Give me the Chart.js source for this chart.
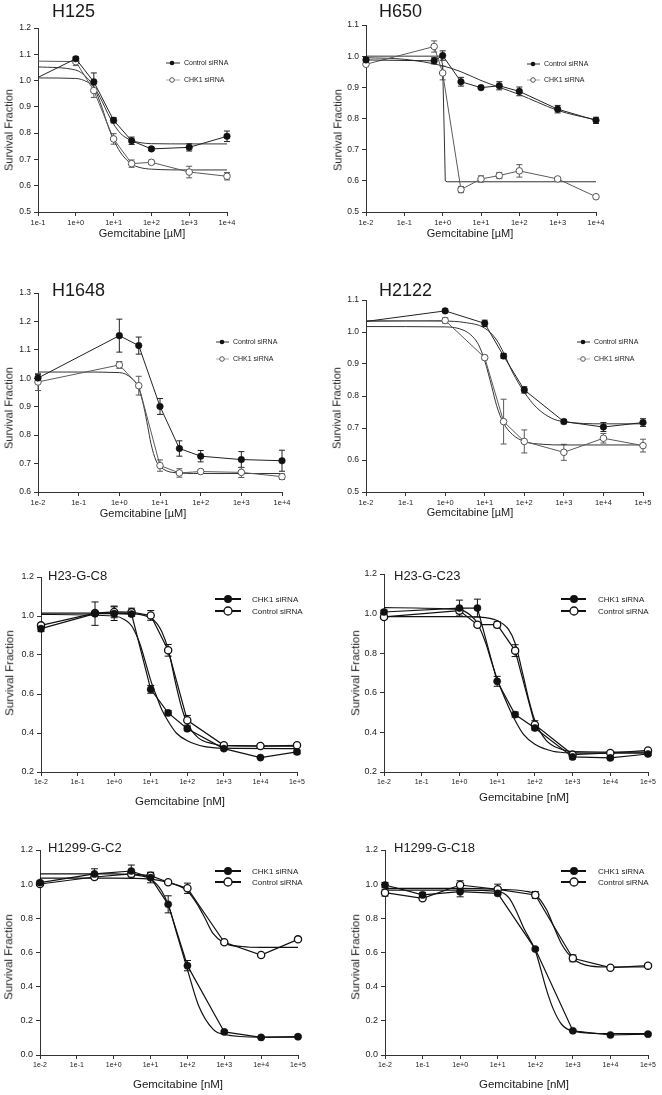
<!DOCTYPE html>
<html><head><meta charset="utf-8">
<script src="https://cdn.jsdelivr.net/npm/chart.js@4.4.1/dist/chart.umd.min.js"></script>
<style>
html,body{margin:0;padding:0;background:#fff;}
body{width:662px;height:1095px;position:relative;overflow:hidden;font-family:"Liberation Sans",Arial,sans-serif;color:#1a1a1a;}
canvas{position:absolute;}
.t{position:absolute;white-space:nowrap;line-height:1;}
.l{transform:translateY(-50%);}
.c{transform:translate(-50%,-50%);}
.r{transform:translate(-50%,-50%) rotate(-90deg);}
</style></head><body>
<script>
// ================= DATA =================
const xTickValues = [0.01, 0.1, 1, 10, 100, 1000, 10000, 100000];
const xTickLabels = ['1e-2', '1e-1', '1e+0', '1e+1', '1e+2', '1e+3', '1e+4', '1e+5'];
const legendTop = ['Control siRNA', 'CHK1 siRNA'];
const legendBottom = ['CHK1 siRNA', 'Control siRNA'];
const yAxisTitle = 'Survival Fraction';
const xAxisTitleUM = 'Gemcitabine [µM]';
const xAxisTitleNM = 'Gemcitabine [nM]';

// H125
const h125_x = [0.1, 1, 3, 10, 30, 100, 1000, 10000];
const h125_ctrl = [1.012, 1.083, 0.995, 0.849, 0.771, 0.740, 0.746, 0.788];
const h125_ctrlErr = [0, 0.008, 0.034, 0.010, 0.014, 0.006, 0.014, 0.020];
const h125_chk1 = [1.074, 1.072, 0.962, 0.778, 0.684, 0.689, 0.652, 0.636];
const h125_chk1Err = [0, 0.015, 0.026, 0.020, 0.014, 0.008, 0.022, 0.014];
const h125_fitX = [0.1, 1, 2, 3, 5, 7, 10, 15, 20, 30, 50, 100, 1000, 10000];
const h125_fitCtrl = [1.010, 1.008, 0.995, 0.975, 0.920, 0.875, 0.835, 0.800, 0.785, 0.772, 0.764, 0.760, 0.759, 0.759];
const h125_fitChk1 = [1.052, 1.040, 1.010, 0.975, 0.895, 0.830, 0.775, 0.728, 0.705, 0.682, 0.669, 0.663, 0.660, 0.660];

// H650
const h650_x = [0.01, 0.6, 1, 3, 10, 30, 100, 1000, 10000];
const h650_ctrl = [0.988, 0.985, 1.002, 0.918, 0.899, 0.905, 0.887, 0.830, 0.794];
const h650_ctrlErr = [0.008, 0.010, 0.015, 0.014, 0.005, 0.013, 0.014, 0.012, 0.010];
const h650_chk1 = [0.974, 1.031, 0.946, 0.572, 0.606, 0.617, 0.632, 0.606, 0.549];
const h650_chk1Err = [0.005, 0.018, 0.022, 0.010, 0.010, 0.010, 0.020, 0.005, 0.006];
const h650_fitCtrlX = [0.01, 0.1, 1, 3, 10, 30, 100, 300, 1000, 3000, 10000];
const h650_fitCtrl = [0.995, 0.990, 0.969, 0.950, 0.922, 0.900, 0.877, 0.852, 0.826, 0.810, 0.796];
const h650_fitChk1X = [0.01, 0.1, 0.9, 1.0, 1.1, 1.17, 1.3, 10, 10000];
const h650_fitChk1 = [1.000, 1.000, 1.000, 0.970, 0.750, 0.600, 0.597, 0.597, 0.597];

// H1648
const h1648_x = [0.01, 1, 3, 10, 30, 100, 1000, 10000];
const h1648_ctrl = [1.001, 1.150, 1.115, 0.901, 0.753, 0.726, 0.714, 0.710];
const h1648_ctrlErr = [0.012, 0.058, 0.030, 0.028, 0.027, 0.020, 0.028, 0.037];
const h1648_chk1 = [0.987, 1.047, 0.974, 0.693, 0.667, 0.672, 0.669, 0.654];
const h1648_chk1Err = [0.030, 0.012, 0.033, 0.020, 0.015, 0.006, 0.018, 0.010];
const h1648_fitX = [0.01, 0.1, 1, 2, 3, 4, 5, 6, 8, 10, 20, 100, 10000];
const h1648_fitChk1 = [1.022, 1.022, 1.020, 1.000, 0.965, 0.900, 0.830, 0.770, 0.710, 0.690, 0.669, 0.665, 0.665];

// H2122
const h2122_x = [0.01, 1, 10, 30, 100, 1000, 10000, 100000];
const h2122_ctrl = [1.033, 1.066, 1.027, 0.925, 0.819, 0.720, 0.703, 0.717];
const h2122_ctrlErr = [0, 0.005, 0.010, 0.008, 0.010, 0.007, 0.014, 0.012];
const h2122_chk1 = [1.033, 1.036, 0.920, 0.720, 0.658, 0.624, 0.668, 0.645];
const h2122_chk1Err = [0, 0.008, 0.007, 0.070, 0.036, 0.025, 0.015, 0.020];
const h2122_fitCtrlX = [0.01, 1, 3, 10, 20, 30, 50, 100, 200, 500, 1000, 10000, 100000];
const h2122_fitCtrl = [1.035, 1.034, 1.030, 1.012, 0.975, 0.935, 0.875, 0.812, 0.765, 0.730, 0.720, 0.713, 0.713];
const h2122_fitChk1X = [0.01, 1, 3, 5, 7, 10, 15, 20, 30, 50, 100, 300, 1000, 100000];
const h2122_fitChk1 = [1.017, 1.016, 1.005, 0.985, 0.960, 0.910, 0.830, 0.770, 0.715, 0.680, 0.658, 0.649, 0.647, 0.647];

// H23-G-C8
const c8_x = [0.01, 0.3, 1, 3, 10, 30, 100, 1000, 10000, 100000];
const c8_chk1 = [0.935, 1.012, 1.012, 1.010, 0.624, 0.503, 0.422, 0.320, 0.274, 0.303];
const c8_chk1Err = [0.015, 0.060, 0.035, 0.010, 0.020, 0.012, 0.010, 0.008, 0.005, 0.010];
const c8_ctrl = [0.952, 1.015, 1.021, 1.020, 1.003, 0.824, 0.465, 0.337, 0.333, 0.337];
const c8_ctrlErr = [0.010, 0.010, 0.030, 0.020, 0.025, 0.030, 0.025, 0.010, 0.005, 0.005];
const c8_fitChk1X = [0.01, 1, 2, 3, 5, 7, 10, 15, 20, 30, 50, 100, 300, 1000, 100000];
const c8_fitChk1 = [1.008, 1.000, 0.980, 0.950, 0.860, 0.770, 0.670, 0.580, 0.520, 0.460, 0.400, 0.360, 0.330, 0.322, 0.320];
const c8_fitCtrlX = [0.01, 1, 3, 10, 15, 20, 30, 50, 70, 100, 200, 500, 1000, 100000];
const c8_fitCtrl = [1.015, 1.015, 1.012, 0.990, 0.960, 0.920, 0.830, 0.640, 0.530, 0.450, 0.375, 0.345, 0.335, 0.333];

// H23-G-C23
const c23_x = [0.01, 1, 3, 10, 30, 100, 1000, 10000, 100000];
const c23_chk1 = [1.008, 1.028, 1.028, 0.658, 0.490, 0.422, 0.276, 0.271, 0.291];
const c23_chk1Err = [0.010, 0.040, 0.045, 0.025, 0.013, 0.010, 0.010, 0.006, 0.006];
const c23_ctrl = [0.983, 1.015, 0.944, 0.944, 0.813, 0.439, 0.288, 0.296, 0.309];
const c23_ctrlErr = [0.010, 0.015, 0.010, 0.015, 0.030, 0.020, 0.008, 0.006, 0.005];
const c23_fitChk1X = [0.01, 1, 2, 3, 5, 7, 10, 20, 30, 50, 100, 300, 1000, 100000];
const c23_fitChk1 = [1.030, 1.020, 0.990, 0.950, 0.850, 0.760, 0.670, 0.530, 0.460, 0.390, 0.340, 0.305, 0.297, 0.295];
const c23_fitCtrlX = [0.01, 1, 3, 10, 20, 30, 50, 70, 100, 200, 500, 1000, 100000];
const c23_fitCtrl = [0.985, 0.985, 0.983, 0.965, 0.920, 0.850, 0.680, 0.560, 0.460, 0.360, 0.315, 0.303, 0.300];

// H1299-G-C2
const c2_x = [0.01, 0.3, 3, 10, 30, 100, 1000, 10000, 100000];
const c2_chk1 = [1.009, 1.060, 1.077, 1.038, 0.882, 0.523, 0.135, 0.103, 0.107];
const c2_chk1Err = [0.010, 0.030, 0.035, 0.030, 0.050, 0.030, 0.008, 0.005, 0.005];
const c2_ctrl = [1.001, 1.042, 1.060, 1.050, 1.011, 0.976, 0.660, 0.585, 0.677];
const c2_ctrlErr = [0.008, 0.010, 0.010, 0.020, 0.006, 0.030, 0.010, 0.006, 0.006];
const c2_fitChk1X = [0.01, 1, 5, 10, 20, 30, 50, 100, 200, 500, 1000, 10000, 100000];
const c2_fitChk1 = [1.060, 1.060, 1.050, 1.030, 0.960, 0.880, 0.720, 0.500, 0.290, 0.150, 0.120, 0.105, 0.105];
const c2_fitCtrlX = [0.01, 1, 10, 30, 100, 200, 300, 500, 1000, 3000, 10000, 100000];
const c2_fitCtrl = [1.035, 1.035, 1.030, 1.010, 0.960, 0.870, 0.800, 0.710, 0.655, 0.635, 0.630, 0.630];

// H1299-G-C18
const c18_x = [0.01, 0.1, 1, 10, 100, 1000, 10000, 100000];
const c18_chk1 = [0.995, 0.937, 0.956, 0.946, 0.620, 0.142, 0.117, 0.122];
const c18_chk1Err = [0.015, 0.015, 0.030, 0.008, 0.008, 0.005, 0.005, 0.005];
const c18_ctrl = [0.950, 0.917, 0.995, 0.970, 0.937, 0.566, 0.511, 0.523];
const c18_ctrlErr = [0.020, 0.008, 0.025, 0.030, 0.020, 0.020, 0.005, 0.010];
const c18_fitChk1X = [0.01, 1, 10, 20, 30, 50, 100, 200, 300, 500, 1000, 10000, 100000];
const c18_fitChk1 = [0.965, 0.965, 0.958, 0.920, 0.850, 0.740, 0.610, 0.380, 0.270, 0.180, 0.140, 0.125, 0.125];
const c18_fitCtrlX = [0.01, 1, 10, 50, 100, 200, 300, 500, 1000, 3000, 10000, 100000];
const c18_fitCtrl = [0.975, 0.975, 0.970, 0.960, 0.940, 0.850, 0.760, 0.650, 0.565, 0.520, 0.515, 0.515];

// ================= STYLES =================
const STYLES = {
  top: {lineFilled:'#222', lineOpen:'#5a5a5a', fit:'#333', lw:1, r:3.3, openBorder:'#555', openBW:1, cap:3,
        xFont:7.5, yFont:8.5, titleFont:18, axisFont:11, legFont:7, legR:2.3, legLW:1, legLineFilled:'#333', legLineOpen:'#aaa'},
  bottom: {lineFilled:'#111', lineOpen:'#111', fit:'#111', lw:1.2, r:3.6, openBorder:'#111', openBW:1.3, cap:3.5,
        xFont:7, yFont:9, titleFont:13, axisFont:11.5, legFont:8, legR:4, legLW:2, legLineFilled:'#111', legLineOpen:'#111'}
};

const panels = [
  {title:'H125', xTitle:xAxisTitleUM, s:'top', cx:0, cy:0, cw:331, ch:250, area:{l:38,r:227,t:28,b:212},
   xmin:0.1, xmax:10000, ymin:0.5, ymax:1.2, ystep:0.1, titleAt:[52,11], xTitleAt:[142,233], yTitleAt:[9,130],
   legend:{x0:166,x1:180,mx:172,tx:184,ys:[63,80],labels:legendTop},
   series:[{x:h125_x,y:h125_ctrl,e:h125_ctrlErr,filled:true,hide:[0]},{x:h125_x,y:h125_chk1,e:h125_chk1Err,filled:false,hide:[0]}],
   fits:[{x:h125_fitX,y:h125_fitCtrl},{x:h125_fitX,y:h125_fitChk1}]},
  {title:'H650', xTitle:xAxisTitleUM, s:'top', cx:331, cy:0, cw:331, ch:250, area:{l:366,r:596,t:25,b:212},
   xmin:0.01, xmax:10000, ymin:0.5, ymax:1.1, ystep:0.1, titleAt:[379,11], xTitleAt:[470,233], yTitleAt:[338,130],
   legend:{x0:527,x1:540,mx:533,tx:544,ys:[64,80],labels:legendTop},
   series:[{x:h650_x,y:h650_ctrl,e:h650_ctrlErr,filled:true},{x:h650_x,y:h650_chk1,e:h650_chk1Err,filled:false}],
   fits:[{x:h650_fitCtrlX,y:h650_fitCtrl},{x:h650_fitChk1X,y:h650_fitChk1,linear:true}]},
  {title:'H1648', xTitle:xAxisTitleUM, s:'top', cx:0, cy:250, cw:331, ch:280, area:{l:38,r:282,t:293,b:492},
   xmin:0.01, xmax:10000, ymin:0.6, ymax:1.3, ystep:0.1, titleAt:[52,290], xTitleAt:[143,513], yTitleAt:[9,408],
   legend:{x0:216,x1:229,mx:222,tx:233,ys:[342,359],labels:legendTop},
   series:[{x:h1648_x,y:h1648_ctrl,e:h1648_ctrlErr,filled:true},{x:h1648_x,y:h1648_chk1,e:h1648_chk1Err,filled:false}],
   fits:[{x:h1648_fitX,y:h1648_fitChk1}]},
  {title:'H2122', xTitle:xAxisTitleUM, s:'top', cx:331, cy:250, cw:331, ch:280, area:{l:366,r:643,t:300,b:492},
   xmin:0.01, xmax:100000, ymin:0.5, ymax:1.1, ystep:0.1, titleAt:[379,290], xTitleAt:[470,512], yTitleAt:[337,408],
   legend:{x0:577,x1:590,mx:583,tx:594,ys:[342,359],labels:legendTop},
   series:[{x:h2122_x,y:h2122_ctrl,e:h2122_ctrlErr,filled:true,hide:[0]},{x:h2122_x,y:h2122_chk1,e:h2122_chk1Err,filled:false,hide:[0]}],
   fits:[{x:h2122_fitCtrlX,y:h2122_fitCtrl},{x:h2122_fitChk1X,y:h2122_fitChk1}]},
  {title:'H23-G-C8', xTitle:xAxisTitleNM, s:'bottom', cx:0, cy:530, cw:331, ch:285, area:{l:41,r:297,t:577,b:772},
   xmin:0.01, xmax:100000, ymin:0.2, ymax:1.2, ystep:0.2, titleAt:[48,575], xTitleAt:[180,802], yTitleAt:[10,673],
   legend:{x0:215,x1:241,mx:228,tx:252,ys:[599,611],labels:legendBottom},
   series:[{x:c8_x,y:c8_chk1,e:c8_chk1Err,filled:true},{x:c8_x,y:c8_ctrl,e:c8_ctrlErr,filled:false}],
   fits:[{x:c8_fitChk1X,y:c8_fitChk1},{x:c8_fitCtrlX,y:c8_fitCtrl}]},
  {title:'H23-G-C23', xTitle:xAxisTitleNM, s:'bottom', cx:331, cy:530, cw:331, ch:285, area:{l:384,r:648,t:574,b:772},
   xmin:0.01, xmax:100000, ymin:0.2, ymax:1.2, ystep:0.2, titleAt:[394,575], xTitleAt:[524,798], yTitleAt:[356,673],
   legend:{x0:561,x1:586,mx:574,tx:598,ys:[599,611],labels:legendBottom},
   series:[{x:c23_x,y:c23_chk1,e:c23_chk1Err,filled:true},{x:c23_x,y:c23_ctrl,e:c23_ctrlErr,filled:false}],
   fits:[{x:c23_fitChk1X,y:c23_fitChk1},{x:c23_fitCtrlX,y:c23_fitCtrl}]},
  {title:'H1299-G-C2', xTitle:xAxisTitleNM, s:'bottom', cx:0, cy:815, cw:331, ch:280, area:{l:40,r:298,t:850,b:1055},
   xmin:0.01, xmax:100000, ymin:0.0, ymax:1.2, ystep:0.2, titleAt:[48,847], xTitleAt:[178,1085], yTitleAt:[9,957],
   legend:{x0:215,x1:241,mx:228,tx:252,ys:[871,882],labels:legendBottom},
   series:[{x:c2_x,y:c2_chk1,e:c2_chk1Err,filled:true},{x:c2_x,y:c2_ctrl,e:c2_ctrlErr,filled:false}],
   fits:[{x:c2_fitChk1X,y:c2_fitChk1},{x:c2_fitCtrlX,y:c2_fitCtrl}]},
  {title:'H1299-G-C18', xTitle:xAxisTitleNM, s:'bottom', cx:331, cy:815, cw:331, ch:280, area:{l:385,r:648,t:850,b:1055},
   xmin:0.01, xmax:100000, ymin:0.0, ymax:1.2, ystep:0.2, titleAt:[394,847], xTitleAt:[524,1085], yTitleAt:[356,957],
   legend:{x0:561,x1:586,mx:574,tx:598,ys:[871,882],labels:legendBottom},
   series:[{x:c18_x,y:c18_chk1,e:c18_chk1Err,filled:true},{x:c18_x,y:c18_ctrl,e:c18_ctrlErr,filled:false}],
   fits:[{x:c18_fitChk1X,y:c18_fitChk1},{x:c18_fitCtrlX,y:c18_fitCtrl}]}
];

// ================= PLUGINS =================
const errorBars = {
  id: 'errorBars',
  beforeDatasetsDraw(chart) {
    const {ctx, scales:{x, y}} = chart;
    chart.data.datasets.forEach(ds => {
      if (!ds.errors) return;
      ctx.save();
      ctx.strokeStyle = ds.errColor; ctx.lineWidth = 1;
      ds.data.forEach((pt, j) => {
        const e = ds.errors[j]; if (!e) return;
        const px = x.getPixelForValue(pt.x);
        const y1 = y.getPixelForValue(pt.y + e), y2 = y.getPixelForValue(pt.y - e);
        const c = ds.capHalf;
        ctx.beginPath();
        ctx.moveTo(px, y1); ctx.lineTo(px, y2);
        ctx.moveTo(px - c, y1); ctx.lineTo(px + c, y1);
        ctx.moveTo(px - c, y2); ctx.lineTo(px + c, y2);
        ctx.stroke();
      });
      ctx.restore();
    });
  }
};

const customLegend = {
  id: 'customLegend',
  afterDraw(chart, args, o) {
    if (!o || !o.rows) return;
    const ctx = chart.ctx;
    ctx.save();
    o.rows.forEach(row => {
      ctx.strokeStyle = row.lineColor; ctx.lineWidth = o.lw;
      ctx.beginPath(); ctx.moveTo(o.x0, row.y); ctx.lineTo(o.x1, row.y); ctx.stroke();
      ctx.beginPath(); ctx.arc(o.mx, row.y, o.r, 0, Math.PI * 2);
      if (row.filled) { ctx.fillStyle = '#111'; ctx.fill(); }
      else { ctx.fillStyle = '#fff'; ctx.fill(); ctx.strokeStyle = row.markerBorder; ctx.lineWidth = o.mbw; ctx.stroke(); }
      ctx.fillStyle = '#222';
      ctx.font = o.font + 'px "Liberation Sans", Arial, sans-serif';
      ctx.textAlign = 'left'; ctx.textBaseline = 'middle';
      ctx.fillText(row.label, o.tx, row.y + 0.5);
    });
    ctx.restore();
  }
};

// ================= BUILD =================
function addText(txt, x, y, size, cls) {
  const d = document.createElement('div');
  d.className = 't ' + cls;
  d.textContent = txt;
  d.style.left = x + 'px'; d.style.top = y + 'px'; d.style.fontSize = size + 'px';
  document.body.appendChild(d);
}

const WY = 30, HX = 20;
panels.forEach(p => {
  const st = STYLES[p.s];
  const cv = document.createElement('canvas');
  cv.width = p.cw; cv.height = p.ch;
  cv.style.left = p.cx + 'px'; cv.style.top = p.cy + 'px';
  cv.style.width = p.cw + 'px'; cv.style.height = p.ch + 'px';
  document.body.appendChild(cv);

  const pad = {left: p.area.l - p.cx - WY, right: p.cx + p.cw - p.area.r, top: p.area.t - p.cy, bottom: p.cy + p.ch - p.area.b - HX};

  const datasets = [];
  p.series.forEach(s => {
    const hide = s.hide || [];
    datasets.push({
      data: s.x.map((v, i) => ({x: v, y: s.y[i]})),
      errors: s.e.map((v, i) => hide.includes(i) ? 0 : v),
      errColor: s.filled ? st.lineFilled : st.lineOpen,
      capHalf: st.cap,
      borderColor: s.filled ? st.lineFilled : st.lineOpen,
      borderWidth: st.lw,
      pointRadius: s.x.map((v, i) => hide.includes(i) ? 0 : st.r),
      pointBackgroundColor: s.filled ? '#111' : '#fff',
      pointBorderColor: s.filled ? '#111' : st.openBorder,
      pointBorderWidth: s.filled ? 0.5 : st.openBW,
      tension: 0, clip: false
    });
  });
  p.fits.forEach(f => {
    datasets.push({
      data: f.x.map((v, i) => ({x: v, y: f.y[i]})),
      borderColor: st.fit, borderWidth: st.lw,
      pointRadius: 0,
      cubicInterpolationMode: f.linear ? 'default' : 'monotone',
      tension: 0
    });
  });

  const ticks = xTickValues.filter(v => v >= p.xmin * 0.999 && v <= p.xmax * 1.001);
  const L = p.legend;
  const rows = L.ys.map((yy, i) => ({
    y: yy - p.cy, label: L.labels[i], filled: i === 0,
    lineColor: i === 0 ? st.legLineFilled : st.legLineOpen,
    markerBorder: st.openBorder
  }));

  new Chart(cv, {
    type: 'line',
    data: {datasets},
    options: {
      responsive: false, animation: false, devicePixelRatio: 1,
      layout: {padding: pad},
      plugins: {
        legend: {display: false}, tooltip: {enabled: false},
        customLegend: {rows, x0: L.x0 - p.cx, x1: L.x1 - p.cx, mx: L.mx - p.cx, tx: L.tx - p.cx,
                       r: st.legR, lw: st.legLW, mbw: st.openBW, font: st.legFont}
      },
      scales: {
        x: {
          type: 'logarithmic', min: p.xmin, max: p.xmax,
          afterBuildTicks: sc => { sc.ticks = ticks.map(v => ({value: v})); },
          afterFit: sc => { sc.height = HX; },
          ticks: {autoSkip: false, maxRotation: 0, minRotation: 0, padding: 2, color: '#222',
                  font: {family: '"Liberation Sans", Arial, sans-serif', size: st.xFont},
                  callback: v => xTickLabels[xTickValues.indexOf(v)] ?? ''},
          grid: {display: true, drawOnChartArea: false, drawTicks: true, tickLength: 4, color: '#333'},
          border: {display: true, color: '#333', width: 1}
        },
        y: {
          type: 'linear', min: p.ymin, max: p.ymax,
          afterFit: sc => { sc.width = WY; },
          ticks: {stepSize: p.ystep, padding: 3, color: '#222',
                  font: {family: '"Liberation Sans", Arial, sans-serif', size: st.yFont},
                  callback: v => Number(v).toFixed(1)},
          grid: {display: true, drawOnChartArea: false, drawTicks: true, tickLength: 4, color: '#333'},
          border: {display: true, color: '#333', width: 1}
        }
      }
    },
    plugins: [errorBars, customLegend]
  });

  addText(p.title, p.titleAt[0], p.titleAt[1], st.titleFont, 'l');
  addText(p.xTitle, p.xTitleAt[0], p.xTitleAt[1], st.axisFont, 'c');
  addText(yAxisTitle, p.yTitleAt[0], p.yTitleAt[1], st.axisFont, 'r');
});
</script>
</body></html>
